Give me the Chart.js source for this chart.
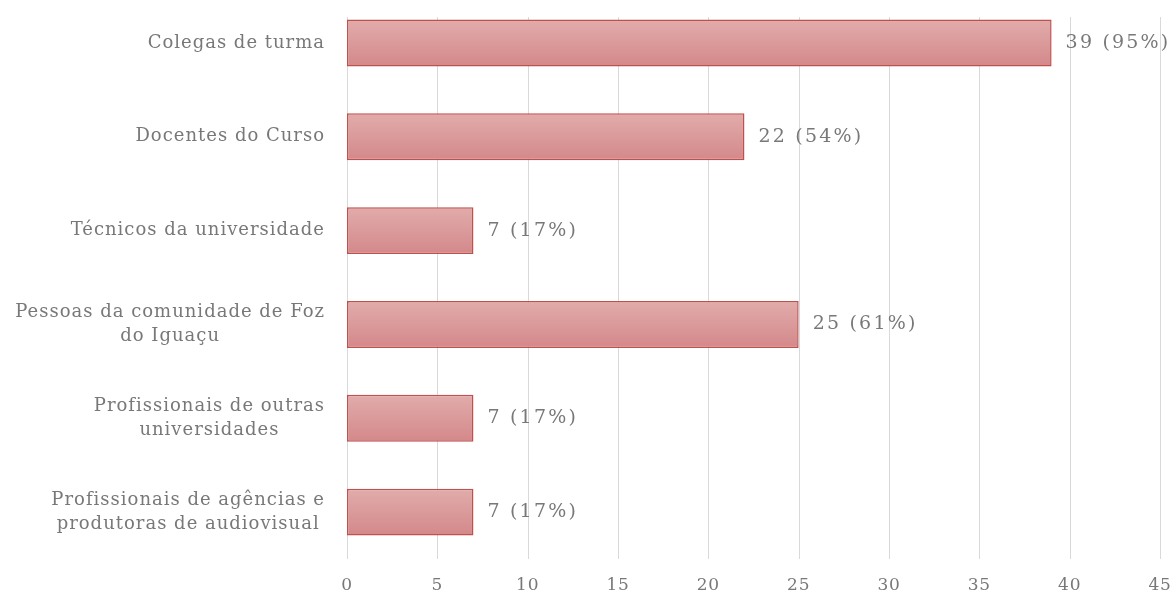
<!DOCTYPE html>
<html>
<head>
<meta charset="utf-8">
<script src="https://cdn.jsdelivr.net/npm/chart.js@4"></script>
<style>
  html, body { margin: 0; padding: 0; background: #fff; overflow: hidden; }
  #wrap { position: absolute; left: 0; top: -20px; width: 1176px; height: 618px; }
</style>
</head>
<body>
<div id="wrap"><canvas id="chart"></canvas></div>
<script>
"use strict";

var categories = [
    ['Colegas de turma'],
    ['Docentes do Curso'],
    ['Técnicos da universidade'],
    ['Pessoas da comunidade de Foz', 'do Iguaçu'],
    ['Profissionais de outras', 'universidades'],
    ['Profissionais de agências e', 'produtoras de audiovisual']
];
var counts = [39, 22, 7, 25, 7, 7];
var percents = [95, 54, 17, 61, 17, 17];
var xTicks = [0, 5, 10, 15, 20, 25, 30, 35, 40, 45];

var FONT = '"DejaVu Serif", serif';
var TEXT = '#787878';
var GRID_TOP = 37;   // canvas px (page y 17)
var TICK_Y = 606;    // canvas px (page y 586)

function barGradient(context) {
    var chart = context.chart;
    var y = chart.scales.y;
    if (!chart.chartArea || !y) return '#d99a9a';
    var c = y.getPixelForValue(context.dataIndex);
    var h = Math.abs(y.getPixelForValue(1) - y.getPixelForValue(0)) * 0.5;
    if (!isFinite(c) || !isFinite(h) || h === 0) return '#d99a9a';
    var g = chart.ctx.createLinearGradient(0, c - h / 2, 0, c + h / 2);
    g.addColorStop(0, '#e1acab');
    g.addColorStop(1, '#d4888a');
    return g;
}

// vertical grid lines, starting a bit under the top like the original
var gridPlugin = {
    id: 'gridLines',
    beforeDatasetsDraw: function(chart) {
        var ctx = chart.ctx, x = chart.scales.x, area = chart.chartArea;
        ctx.save();
        ctx.strokeStyle = '#d9d9d9';
        ctx.lineWidth = 1;
        xTicks.forEach(function(v) {
            var px = Math.round(x.getPixelForValue(v)) + 0.5;
            ctx.beginPath();
            ctx.moveTo(px, GRID_TOP);
            ctx.lineTo(px, area.bottom);
            ctx.stroke();
        });
        ctx.restore();
    }
};

// category labels (block right aligned, lines centred), value labels, x ticks
var labelPlugin = {
    id: 'textLabels',
    afterDatasetsDraw: function(chart) {
        var ctx = chart.ctx, y = chart.scales.y, x = chart.scales.x;
        var right = 325, lineH = 24;
        ctx.save();
        ctx.letterSpacing = '1px';
        ctx.font = '18px ' + FONT;
        ctx.fillStyle = TEXT;
        ctx.textBaseline = 'middle';
        ctx.textAlign = 'center';
        categories.forEach(function(lines, i) {
            var w = 0;
            lines.forEach(function(l) { w = Math.max(w, ctx.measureText(l).width); });
            var cx = right - w / 2;
            var cy = y.getPixelForValue(i) - (lines.length - 1) * lineH / 2;
            lines.forEach(function(l, j) {
                ctx.fillText(l, cx, cy + j * lineH);
            });
        });

        ctx.letterSpacing = '2.2px';
        ctx.font = '19px ' + FONT;
        ctx.textAlign = 'left';
        counts.forEach(function(v, i) {
            ctx.fillText(v + ' (' + percents[i] + '%)', x.getPixelForValue(v) + 14, y.getPixelForValue(i));
        });

        ctx.letterSpacing = '0.8px';
        ctx.font = '17px ' + FONT;
        ctx.textAlign = 'center';
        xTicks.forEach(function(v) {
            ctx.fillText(String(v), x.getPixelForValue(v), TICK_Y);
        });
        ctx.restore();
    }
};

new Chart(document.getElementById('chart'), {
    type: 'bar',
    data: {
        labels: categories,
        datasets: [{
            data: counts,
            backgroundColor: barGradient,
            borderColor: '#c0504d',
            borderWidth: 1.5,
            borderSkipped: false,
            barPercentage: 0.5,
            categoryPercentage: 1
        }]
    },
    options: {
        indexAxis: 'y',
        responsive: true,
        maintainAspectRatio: false,
        animation: false,
        layout: { padding: { left: 347, right: 16, top: 16, bottom: 31 } },
        plugins: {
            legend: { display: false },
            tooltip: { enabled: false }
        },
        scales: {
            x: {
                min: 0,
                max: 45,
                grid: { display: false },
                border: { display: false },
                ticks: { display: false }
            },
            y: {
                display: false
            }
        }
    },
    plugins: [gridPlugin, labelPlugin]
});
</script>
</body>
</html>
